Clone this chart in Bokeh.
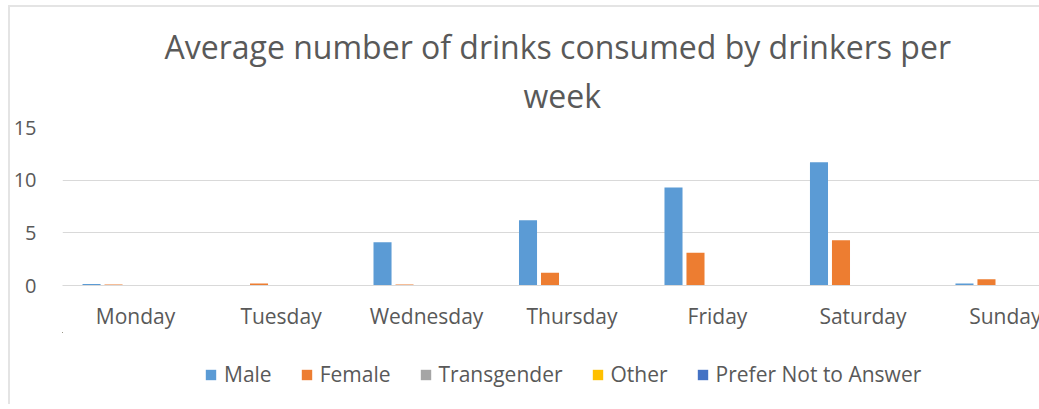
from bokeh.plotting import figure
from bokeh.layouts import column
from bokeh.models import Legend, LegendItem, FixedTicker, Title, Range1d
from bokeh.embed import file_html
from bokeh.resources import INLINE

days = ["Monday", "Tuesday", "Wednesday", "Thursday", "Friday", "Saturday", "Sunday"]
male = [0.15, 0.0, 4.1, 6.2, 9.3, 11.7, 0.2]
female = [0.1, 0.2, 0.1, 1.2, 3.1, 4.3, 0.6]
transgender = [0, 0, 0, 0, 0, 0, 0]
other = [0, 0, 0, 0, 0, 0, 0]
prefer_not = [0, 0, 0, 0, 0, 0, 0]
series_names = ["Male", "Female", "Transgender", "Other", "Prefer Not to Answer"]
series_values = [male, female, transgender, other, prefer_not]
colors = ["#5B9BD5", "#ED7D31", "#A5A5A5", "#FFC000", "#4472C4"]
y_ticks = [0, 5, 10, 15]

FONT = "Open Sans"
TXT = "#595959"

p = figure(frame_width=979, frame_height=158, output_backend="svg", toolbar_location=None,
           title=None,
           x_range=Range1d(-0.502, 6.227), y_range=Range1d(0, 15),
           min_border_left=50, min_border_right=0, min_border_top=120,
           min_border_bottom=45)
p.outline_line_color = None
p.background_fill_color = "white"
p.border_fill_color = "white"

pitch = 0.1512
bw = 0.124
x_idx = list(range(len(days)))
for k, (name, vals, col) in enumerate(zip(series_names, series_values, colors)):
    xs = [i + (k - 2) * pitch for i in x_idx]
    p.vbar(x=xs, top=vals, width=bw, bottom=0, fill_color=col, line_color=None)

p.xgrid.visible = False
p.ygrid.grid_line_color = "#D9D9D9"
p.ygrid.grid_line_width = 1

p.yaxis.ticker = FixedTicker(ticks=y_ticks)
p.yaxis.axis_line_color = None
p.yaxis.major_tick_line_color = None
p.yaxis.minor_tick_line_color = None
p.yaxis.major_label_text_font = FONT
p.yaxis.major_label_text_font_size = "20px"
p.yaxis.major_label_text_color = TXT
p.yaxis.major_label_standoff = 20

p.xaxis.ticker = FixedTicker(ticks=x_idx)
p.xaxis.major_label_overrides = {i: d for i, d in zip(x_idx, days)}
p.xaxis.axis_line_color = "#D9D9D9"
p.xaxis.major_tick_line_color = None
p.xaxis.minor_tick_line_color = None
p.xaxis.major_label_text_font = FONT
p.xaxis.major_label_text_font_size = "21px"
p.xaxis.major_label_text_color = TXT
p.xaxis.major_label_standoff = 10

p.add_layout(Title(text="week", align="left", offset=461, text_font=FONT,
                   text_font_size="32px", text_font_style="normal", text_color=TXT,
                   standoff=22), "above")
p.add_layout(Title(text="Average number of drinks consumed by drinkers per", align="left",
                   offset=102, text_font=FONT, text_font_size="32px", text_font_style="normal",
                   text_color=TXT, standoff=-14), "above")

# legend strip below the chart (its bars lie far outside its visible ranges)
p2 = figure(width=1029, height=72, output_backend="svg", toolbar_location=None, title=None,
            x_range=Range1d(100, 101), y_range=Range1d(-2, -1),
            x_axis_type=None, y_axis_type=None,
            min_border_left=0, min_border_right=0, min_border_top=0, min_border_bottom=0)
p2.outline_line_color = None
p2.xgrid.visible = False
p2.ygrid.visible = False
leg_renderers = [p2.vbar(x=x_idx, top=vals, bottom=0, width=bw, fill_color=c, line_color=None)
                 for vals, c in zip(series_values, colors)]
legend = Legend(items=[LegendItem(label=n, renderers=[r]) for n, r in zip(series_names, leg_renderers)],
                orientation="horizontal", location=(142, 16),
                label_text_font=FONT, label_text_font_size="21px", label_text_color=TXT,
                glyph_width=13, glyph_height=13, label_standoff=7, spacing=28,
                border_line_color=None, background_fill_alpha=0, padding=0, margin=0)
p2.add_layout(legend, "center")

layout = column(p, p2, spacing=0)
layout.styles = {"margin-left": "8px", "margin-top": "5px",
                 "border-left": "2px solid #E4E4E4", "border-top": "2px solid #E4E4E4"}

open("out.html", "w").write(file_html(layout, INLINE))
